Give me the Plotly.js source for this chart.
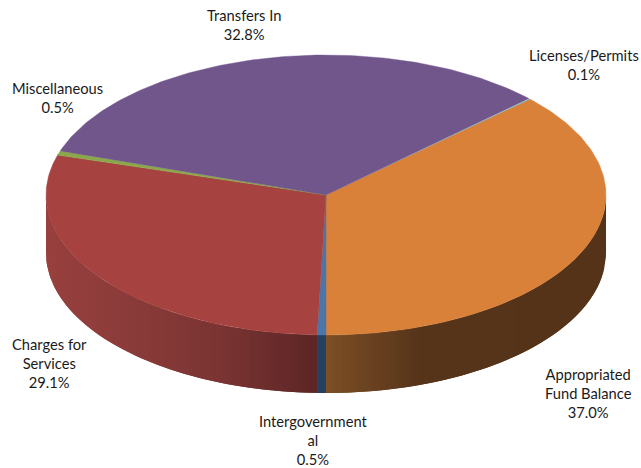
<!DOCTYPE html>
<html>
<head>
<meta charset="utf-8">
<script src="https://cdn.plot.ly/plotly-3.0.1.min.js"></script>
<style>html,body{margin:0;padding:0;background:#fff}#chart{width:641px;height:468px}</style>
</head>
<body>
<div id="chart"></div>
<script>
// Revenue shares, listed clockwise from the first slice
const categories = ['Appropriated Fund Balance', 'Intergovernmental', 'Charges for Services', 'Miscellaneous', 'Transfers In', 'Licenses/Permits'];
const labelLines = ['Appropriated<br>Fund Balance', 'Intergovernment<br>al', 'Charges for<br>Services', 'Miscellaneous', 'Transfers In', 'Licenses/Permits'];
const shares = [37.0, 0.5, 29.1, 0.5, 32.8, 0.1];
const topColors = ['#d98039', '#4a76ab', '#a64341', '#8aa84a', '#71568c', '#4bacc6'];
const labelX = [588, 313, 49, 57, 244, 584];
const labelY = [392.5, 439.5, 362.5, 97, 24.5, 64];

// Oblique-pie projection, in page pixels
const cx = 326, cy = 195, rx = 280, ry = 140, depth = 58, startDeg = 46.8;
const project = (deg, drop) => {
  const a = deg * Math.PI / 180;
  return [cx + rx * Math.sin(a), cy - ry * Math.cos(a) + drop];
};
const lerp = (a, b, t) => a + (b - a) * t;
// Rim angle of a page x position on the front half of the ellipse
const rimAngle = x => 180 - Math.asin(Math.max(-1, Math.min(1, (x - cx) / rx))) * 180 / Math.PI;

// Wall shade stops by horizontal page position: [x, r, g, b]
const wallRamps = {
  0: [[327, 124, 79, 36], [370, 106, 66, 32], [420, 86, 52, 26], [606, 84, 51, 25]],
  1: [[317, 37, 64, 97], [327, 37, 64, 97]],
  2: [[46, 152, 64, 62], [120, 140, 60, 58], [220, 122, 52, 50], [317, 92, 37, 37]]
};
function wallColor(ramp, x) {
  if (x <= ramp[0][0]) return `rgb(${ramp[0].slice(1).join(',')})`;
  for (let i = 1; i < ramp.length; i++) {
    if (x <= ramp[i][0]) {
      const t = (x - ramp[i - 1][0]) / (ramp[i][0] - ramp[i - 1][0]);
      const c = [1, 2, 3].map(k => Math.round(lerp(ramp[i - 1][k], ramp[i][k], t)));
      return `rgb(${c.join(',')})`;
    }
  }
  return `rgb(${ramp[ramp.length - 1].slice(1).join(',')})`;
}

const total = shares.reduce((a, b) => a + b, 0);
const traces = [];
const poly = (pts, color, lineWidth) => traces.push({
  type: 'scatter', mode: 'lines', fill: 'toself', fillcolor: color,
  x: pts.map(p => p[0]), y: pts.map(p => p[1]),
  line: {color: color, width: lineWidth},
  hoverinfo: 'skip', showlegend: false
});

// Side walls, as vertical bands of equal page width; each band runs under its
// neighbour so no seams show. Only rim angles 90-270 face the viewer.
const bandWidth = 4;
let angle = startDeg;
shares.forEach((share, i) => {
  const sweep = share / total * 360;
  const from = Math.max(angle, 90), to = Math.min(angle + sweep, 270);
  if (to > from && wallRamps[i]) {
    const xStart = project(from, 0)[0], xEnd = project(to, 0)[0];
    const bands = Math.max(1, Math.ceil((xStart - xEnd) / bandWidth));
    for (let b = 0; b < bands; b++) {
      const xa = lerp(xStart, xEnd, b / bands);
      const xb = lerp(xStart, xEnd, Math.min(1, (b + 2) / bands));
      const xMid = lerp(xStart, xEnd, (b + 0.5) / bands);
      const a0 = Math.max(from, rimAngle(xa)), a1 = Math.min(to, rimAngle(xb));
      const upper = [], lower = [];
      for (let s = 0; s <= 8; s++) {
        const d = lerp(a0, a1, s / 8);
        upper.push(project(d, 0));
        lower.unshift(project(d, depth));
      }
      const pts = upper.concat(lower);
      pts.push(upper[0]);
      poly(pts, wallColor(wallRamps[i], xMid), 0);
    }
  }
  angle += sweep;
});

// Top face slices
angle = startDeg;
shares.forEach((share, i) => {
  const sweep = share / total * 360;
  const pts = [[cx, cy]];
  const steps = Math.max(2, Math.ceil(sweep));
  for (let s = 0; s <= steps; s++) pts.push(project(angle + sweep * s / steps, 0));
  pts.push([cx, cy]);
  poly(pts, topColors[i], share < 0.3 ? 0 : 0.4);
  angle += sweep;
});

const annotations = categories.map((name, i) => ({
  x: labelX[i], y: labelY[i], xref: 'x', yref: 'y', showarrow: false,
  xanchor: 'center', yanchor: 'middle', align: 'center',
  text: labelLines[i] + '<br>' + shares[i].toFixed(1) + '%',
  font: {family: 'Lato, sans-serif', size: 14.7, color: '#1a1a1a'}
}));

const hidden = {visible: false, fixedrange: true};
Plotly.newPlot('chart', traces, {
  width: 641, height: 468,
  margin: {l: 0, r: 0, t: 0, b: 0},
  paper_bgcolor: '#ffffff', plot_bgcolor: '#ffffff',
  xaxis: Object.assign({range: [0, 641]}, hidden),
  yaxis: Object.assign({range: [468, 0]}, hidden),
  annotations: annotations,
  showlegend: false
}, {displayModeBar: false, staticPlot: true});
</script>
</body>
</html>
